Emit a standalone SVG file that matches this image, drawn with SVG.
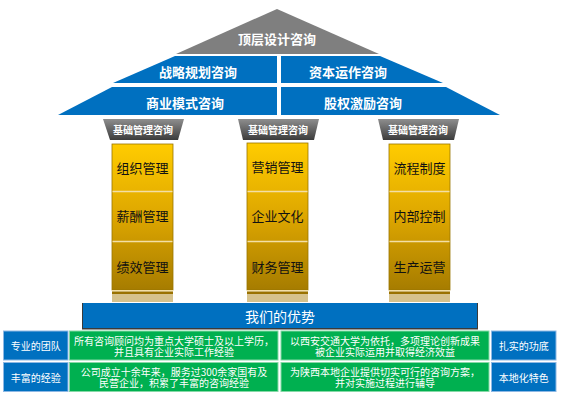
<svg xmlns="http://www.w3.org/2000/svg" width="566" height="405" viewBox="0 0 566 405">
<defs>
<linearGradient id="gLabel" x1="0" y1="0" x2="0" y2="1">
<stop offset="0" stop-color="#8e8e8e"/>
<stop offset="1" stop-color="#3c3c3c"/>
</linearGradient>
<linearGradient id="gPillar" x1="0" y1="0" x2="0" y2="1">
<stop offset="0" stop-color="#FFCC00"/>
<stop offset="0.5" stop-color="#DDA600"/>
<stop offset="1" stop-color="#A67C00"/>
</linearGradient>
<style>
text{font-family:"Noto Sans CJK SC","Noto Sans",sans-serif;text-anchor:middle;dominant-baseline:central}
.roof{fill:#0070C0}
.rt{fill:#fff;font-size:13px;font-weight:bold}
.lab{fill:url(#gLabel)}
.lt{fill:#fff;font-size:10px;font-weight:bold}
.pil{fill:url(#gPillar);stroke:#9A7600;stroke-width:0.8}
.sep{stroke:#F3DFA6;stroke-width:1.5}
.pt{fill:#111;font-size:13px}
.bc{fill:#0070C0;stroke:#8DB8E4;stroke-width:1}
.gc{fill:#00B050;stroke:#86D9A6;stroke-width:1}
.ct{fill:#fff;font-size:10px}
</style>
</defs>

<g id="roof-top">
<polygon points="277,9 379,54 176,54" fill="#7F7F7F"/>
<text class="rt" x="277" y="38">顶层设计咨询</text>
</g>
<g id="roof-strategy">
<polygon class="roof" points="175,56 277,56 277,83 113,83"/>
<text class="rt" x="198" y="71">战略规划咨询</text>
</g>
<g id="roof-capital">
<polygon class="roof" points="281,56 380,56 443,83 281,83"/>
<text class="rt" x="348" y="71">资本运作咨询</text>
</g>
<g id="roof-business">
<polygon class="roof" points="112,87 277,87 277,115 58,115"/>
<text class="rt" x="185" y="102">商业模式咨询</text>
</g>
<g id="roof-equity">
<polygon class="roof" points="281,87 446,87 500,115 281,115"/>
<text class="rt" x="363" y="102">股权激励咨询</text>
</g>

<g id="label-1">
<polygon class="lab" points="103,119 184,119 178,140 110,140"/>
<text class="lt" x="143" y="129.5">基础管理咨询</text>
</g>
<g id="label-2">
<polygon class="lab" points="238,119 319,119 314,140 243,140"/>
<text class="lt" x="278" y="129.5">基础管理咨询</text>
</g>
<g id="label-3">
<polygon class="lab" points="378,119 459,119 454,140 383,140"/>
<text class="lt" x="418" y="129.5">基础管理咨询</text>
</g>

<g id="pillar-1">
<rect class="pil" x="112" y="144" width="61" height="146"/>
<line class="sep" x1="112.5" y1="191.5" x2="172.5" y2="191.5"/>
<line class="sep" x1="112.5" y1="241.5" x2="172.5" y2="241.5"/>
<rect x="112" y="290" width="61" height="1.5" fill="#F3DFA6"/>
<rect x="112" y="291.5" width="61" height="2.5" fill="#9A7200"/>
<rect x="112" y="294" width="61" height="8" fill="#D6C28C"/>
<text class="pt" x="142.5" y="167">组织管理</text>
<text class="pt" x="142.5" y="215.5">薪酬管理</text>
<text class="pt" x="142.5" y="266">绩效管理</text>
</g>
<g id="pillar-2">
<rect class="pil" x="247" y="143" width="61" height="147"/>
<line class="sep" x1="247.5" y1="191.5" x2="307.5" y2="191.5"/>
<line class="sep" x1="247.5" y1="241.5" x2="307.5" y2="241.5"/>
<rect x="247" y="290" width="61" height="1.5" fill="#F3DFA6"/>
<rect x="247" y="291.5" width="61" height="2.5" fill="#9A7200"/>
<rect x="247" y="294" width="61" height="8" fill="#D6C28C"/>
<text class="pt" x="277.5" y="166">营销管理</text>
<text class="pt" x="277.5" y="215.5">企业文化</text>
<text class="pt" x="277.5" y="266">财务管理</text>
</g>
<g id="pillar-3">
<rect class="pil" x="389" y="144" width="61" height="146"/>
<line class="sep" x1="389.5" y1="191.5" x2="449.5" y2="191.5"/>
<line class="sep" x1="389.5" y1="241.5" x2="449.5" y2="241.5"/>
<rect x="389" y="290" width="61" height="1.5" fill="#F3DFA6"/>
<rect x="389" y="291.5" width="61" height="2.5" fill="#9A7200"/>
<rect x="389" y="294" width="61" height="8" fill="#D6C28C"/>
<text class="pt" x="419.5" y="167">流程制度</text>
<text class="pt" x="419.5" y="215.5">内部控制</text>
<text class="pt" x="419.5" y="266">生产运营</text>
</g>

<g id="advantage">
<rect x="82" y="303" width="396" height="26.5" fill="#3a3a3a"/>
<rect x="83" y="303" width="394" height="25" fill="#0070C0"/>
<text x="280" y="315.5" fill="#fff" font-size="14">我们的优势</text>
</g>

<g id="cell-team">
<rect class="bc" x="3.5" y="331" width="64.5" height="29"/>
<text class="ct" x="35.75" y="345.5">专业的团队</text>
</g>
<g id="cell-team-desc">
<rect class="gc" x="69.5" y="331" width="208.5" height="29"/>
<text class="ct" x="174" y="340">所有咨询顾问均为重点大学硕士及以上学历，</text>
<text class="ct" x="174" y="351">并且具有企业实际工作经验</text>
</g>
<g id="cell-foundation-desc">
<rect class="gc" x="281" y="331" width="208" height="29"/>
<text class="ct" x="385" y="340">以西安交通大学为依托，多项理论创新成果</text>
<text class="ct" x="385" y="351">被企业实际运用并取得经济效益</text>
</g>
<g id="cell-foundation">
<rect class="bc" x="491.5" y="331" width="64.5" height="29"/>
<text class="ct" x="523.75" y="345.5">扎实的功底</text>
</g>
<g id="cell-experience">
<rect class="bc" x="3.5" y="362.5" width="64.5" height="29"/>
<text class="ct" x="35.75" y="377">丰富的经验</text>
</g>
<g id="cell-experience-desc">
<rect class="gc" x="69.5" y="362.5" width="208.5" height="29"/>
<text class="ct" x="174" y="371">公司成立十余年来，服务过300余家国有及</text>
<text class="ct" x="174" y="382.5">民营企业，积累了丰富的咨询经验</text>
</g>
<g id="cell-local-desc">
<rect class="gc" x="281" y="362.5" width="208" height="29"/>
<text class="ct" x="385" y="371">为陕西本地企业提供切实可行的咨询方案，</text>
<text class="ct" x="385" y="382.5">并对实施过程进行辅导</text>
</g>
<g id="cell-local">
<rect class="bc" x="491.5" y="362.5" width="64.5" height="29"/>
<text class="ct" x="523.75" y="377">本地化特色</text>
</g>

<g id="connectors"></g>
</svg>
